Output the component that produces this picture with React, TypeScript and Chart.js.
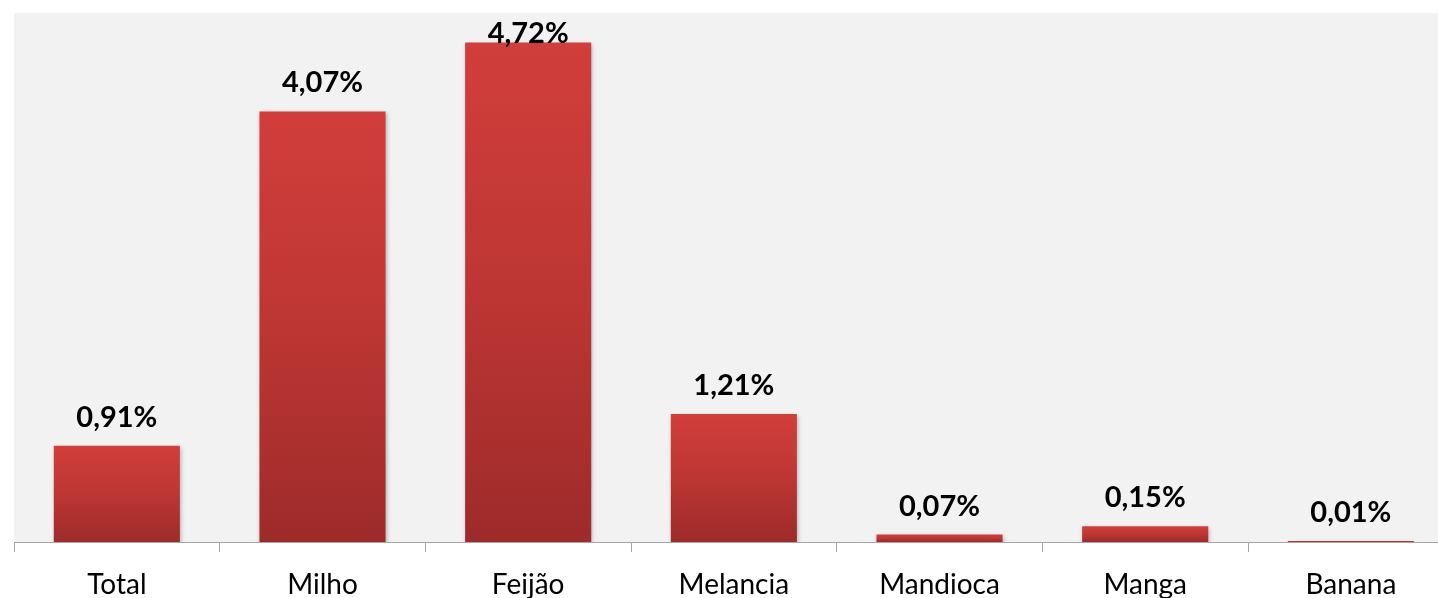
import { useEffect, useRef } from "react";
import { Chart, registerables } from "chart.js";

Chart.register(...registerables);

const categories = ["Total", "Milho", "Feijão", "Melancia", "Mandioca", "Manga", "Banana"];
const values = [0.91, 4.07, 4.72, 1.21, 0.07, 0.15, 0.01];
const valueLabels = ["0,91%", "4,07%", "4,72%", "1,21%", "0,07%", "0,15%", "0,01%"];
const yMax = 5;

const FONT = "Lato, 'Open Sans', sans-serif";

const bgPlugin = {
  id: "plotBg",
  beforeDraw(chart: any) {
    const { ctx, chartArea } = chart;
    if (!chartArea) return;
    ctx.save();
    ctx.fillStyle = "#f2f2f2";
    ctx.fillRect(chartArea.left, chartArea.top, chartArea.right - chartArea.left, chartArea.bottom - chartArea.top);
    ctx.restore();
  },
};

const shadowPlugin = {
  id: "barShadow",
  beforeDatasetsDraw(chart: any) {
    const ctx = chart.ctx;
    ctx.save();
    ctx.shadowColor = "rgba(0,0,0,0.28)";
    ctx.shadowBlur = 4;
    ctx.shadowOffsetX = 1;
    ctx.shadowOffsetY = 2;
  },
  afterDatasetsDraw(chart: any) {
    chart.ctx.restore();
  },
};

const labelPlugin = {
  id: "valueLabels",
  afterDatasetsDraw(chart: any) {
    const { ctx, chartArea } = chart;
    const meta = chart.getDatasetMeta(0);
    ctx.save();
    ctx.font = `bold 29px ${FONT}`;
    ctx.fillStyle = "#000";
    ctx.textAlign = "center";
    ctx.textBaseline = "alphabetic";
    meta.data.forEach((el: any, i: number) => {
      let baseline = el.y - 19;
      const minBase = chartArea.top + 30;
      if (baseline < minBase) baseline = minBase;
      ctx.fillText(valueLabels[i], el.x, baseline);
    });
    ctx.restore();
  },
};

export default function App() {
  const ref = useRef<HTMLCanvasElement | null>(null);

  useEffect(() => {
    if (!ref.current) return;
    const chart = new Chart(ref.current, {
      type: "bar",
      data: {
        labels: categories,
        datasets: [
          {
            data: values,
            backgroundColor: (c: any) => {
              const chart = c.chart;
              const { ctx, chartArea, scales } = chart;
              if (!chartArea || !scales.y || c.type !== "data") return "#c0393a";
              const v = c.parsed ? c.parsed.y : values[c.dataIndex];
              const top = scales.y.getPixelForValue(v);
              const bottom = scales.y.getPixelForValue(0);
              if (!(bottom > top)) return "#c0393a";
              const g = ctx.createLinearGradient(0, top, 0, bottom);
              g.addColorStop(0, "#d13e3b");
              g.addColorStop(0.5, "#bd3633");
              g.addColorStop(1, "#9d2b2a");
              return g;
            },
            borderWidth: 0,
            categoryPercentage: 1,
            barPercentage: 0.613,
          },
        ],
      },
      options: {
        responsive: false,
        animation: false,
        layout: { padding: { left: 14, top: 13, right: 6.3, bottom: 2.4 } },
        plugins: { legend: { display: false }, tooltip: { enabled: false } },
        scales: {
          x: {
            grid: {
              display: true,
              offset: true,
              drawOnChartArea: false,
              drawTicks: true,
              tickLength: 10,
              color: "#a6a6a6",
            },
            border: { display: true, color: "#a6a6a6", width: 1 },
            ticks: {
              color: "#000",
              font: { family: FONT, size: 28, lineHeight: 1.2 },
              padding: 16,
              maxRotation: 0,
              autoSkip: false,
            },
          },
          y: {
            display: false,
            min: 0,
            max: yMax,
          },
        },
      },
      plugins: [bgPlugin, shadowPlugin, labelPlugin],
    });
    return () => chart.destroy();
  }, []);

  return (
    <div
      style={{
        position: "absolute",
        left: 0,
        top: 0,
        width: 1438,
        height: 598,
        overflow: "hidden",
        background: "#fff",
      }}
    >
      <canvas ref={ref} width={1460} height={620} style={{ display: "block" }} />
    </div>
  );
}
